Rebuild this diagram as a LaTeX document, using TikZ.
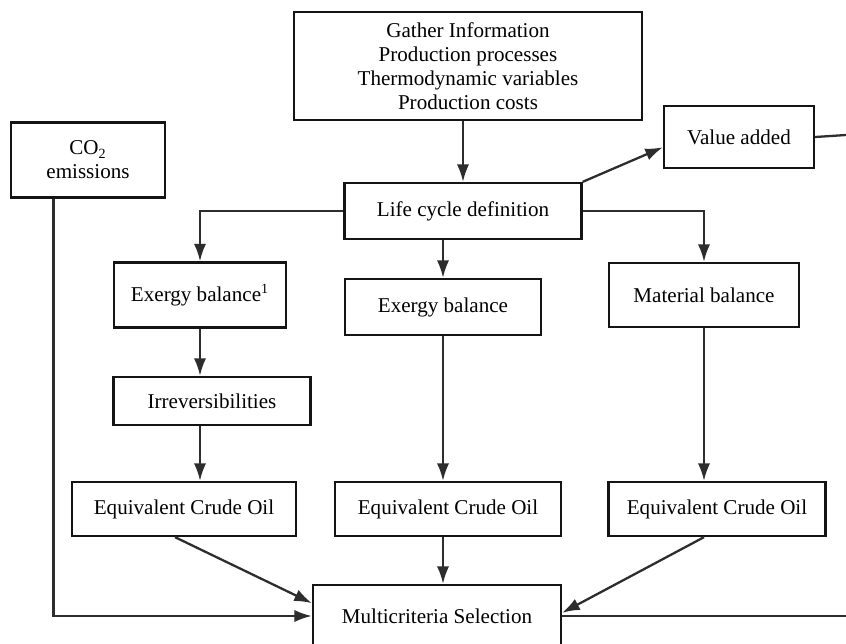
\documentclass[tikz,border=0pt]{standalone}
\usepackage{fontspec}
\setmainfont{Liberation Serif}
\usetikzlibrary{arrows.meta,calc,positioning}
\definecolor{FlowBlack}{RGB}{20,20,20}
\definecolor{FlowGray}{RGB}{45,45,45}

\begin{document}
\begin{tikzpicture}[x=0.02cm,y=-0.02cm,>={Latex[length=10pt,width=7pt]},
    box/.style 2 args={draw=FlowBlack,line width=1.3pt,align=center,inner sep=1pt,
      minimum width=#1*0.02cm,minimum height=#2*0.02cm,
      font=\fontsize{12}{13.6}\selectfont},
    link/.style={FlowGray,line width=1.3pt}]
  \clip (0,0) rectangle (846,643);
  \node[box={348}{108}] (gather) at (468,66)
    {Gather Information\\Production processes\\Thermodynamic variables\\Production costs};
  \node[box={154}{75}] (co2) at (88,160) {CO\textsubscript{2}\\emissions};
  \node[box={150}{62}] (value) at (739,137) {Value added};
  \node[box={237}{56}] (lcd) at (463,211) {Life cycle definition};
  \node[box={172}{65}] (exb1) at (200,295) {Exergy balance\textsuperscript{1}};
  \node[box={196}{56}] (exb2) at (443,307) {Exergy balance};
  \node[box={190}{64}] (mat) at (704,295) {Material balance};
  \node[box={197}{48}] (irr) at (212,401) {Irreversibilities};
  \foreach \name/\x/\w in {eco1/184/224,eco2/448/226,eco3/717/217}
    \node[box={\w}{54}] (\name) at (\x,509) {Equivalent Crude Oil};
  \node[box={248}{62}] (multi) at (437,616) {Multicriteria Selection};
  \coordinate (vout) at (846,135);
  \coordinate (mright) at (846,616);
  \draw[link,->] (gather.south -| lcd.north) -- (lcd.north);
  \draw[link] ($(co2.north east)!0.35!(co2.south east)$) -- ($(co2.north east)!0.35!(co2.south east)$ -| lcd.north);
  \draw[link,->] (lcd.north east) -- ($(value.north west)!0.66!(value.south west)$);
  \draw[link] (value.east) -- (vout);
  \draw[link,->] (lcd.west) -| (exb1.north);
  \draw[link,->] (lcd.east) -| (mat.north);
  \draw[link,->] (exb2.north |- lcd.south) -- (exb2.north);
  \draw[link,->] (exb1.south) -- (exb1.south |- irr.north);
  \draw[link,->] (exb1.south |- irr.south) -- (exb1.south |- eco1.north);
  \draw[link,->] (exb2.south) -- (exb2.south |- eco2.north);
  \draw[link,->] (mat.south) -- (mat.south |- eco3.north);
  \draw[link,->] ($(eco1.south)+(-9,0)$) -- ($(multi.north west)!0.3!(multi.south west)$);
  \draw[link,->] (exb2.south |- eco2.south) -- (exb2.south |- multi.north);
  \draw[link,->] (mat.south |- eco3.south) -- ($(multi.north east)!0.45!(multi.south east)$);
  \draw[link,->] ($(co2.south west)!0.28!(co2.south east)$) |- (multi.west);
  \draw[link] (mright) -- (mright -| multi.east);
\end{tikzpicture}
\end{document}
